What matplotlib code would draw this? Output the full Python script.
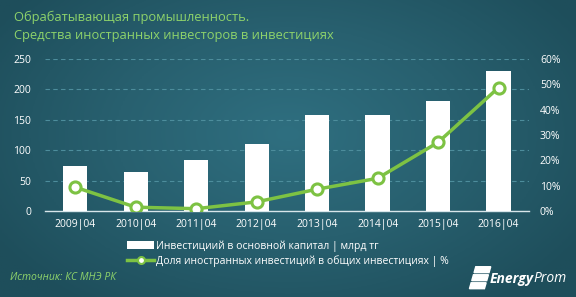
import numpy as np
import matplotlib
matplotlib.use('Agg')
import matplotlib.pyplot as plt
from matplotlib.colors import LinearSegmentedColormap
from matplotlib.patches import Patch
from matplotlib.lines import Line2D

# data
categories = ['2009|04', '2010|04', '2011|04', '2012|04', '2013|04', '2014|04', '2015|04', '2016|04']
investments = [74, 64, 84, 110, 158, 158, 181, 230]
foreign_share = [9.4, 1.5, 0.9, 3.6, 8.6, 12.9, 27.1, 48.7]

title_lines = ['Обрабатывающая промышленность.', 'Средства иностранных инвесторов в инвестициях']
bar_label = 'Инвестициий в основной капитал | млрд тг'
line_label = 'Доля иностранных инвестиций в общих инвестициях | %'

green = '#7dc243'
title_green = '#8ed36b'

plt.rcParams['font.family'] = ['Open Sans', 'DejaVu Sans']

fig = plt.figure(figsize=(5.76, 2.97), dpi=100)

# background gradient
bg = fig.add_axes([0, 0, 1, 1])
yy, xx = np.mgrid[0:1:200j, 0:1:300j]
r = np.sqrt(((xx - 0.5) / 0.75) ** 2 + ((yy - 0.45) / 0.9) ** 2)
cmap = LinearSegmentedColormap.from_list('bg', ['#2f6f80', '#28606f', '#1e4e5b'])
bg.imshow(r, cmap=cmap, extent=[0, 1, 0, 1], aspect='auto', vmin=0, vmax=0.8)
bg.axis('off')

ax = fig.add_axes([0.078, 0.2896, 0.840, 0.5117])
ax.set_facecolor('none')
x = np.arange(len(categories))
ax.bar(x, investments, width=0.4, color='white', zorder=3)
ax.set_xlim(-0.5, 7.5)
ax.set_ylim(0, 250)
ax.set_yticks([0, 50, 100, 150, 200, 250])
ax.set_xticks(x)
ax.set_xticklabels(categories)
ax.tick_params(axis='both', length=0, colors='white', labelsize=7.5)
ax.tick_params(axis='x', pad=6)
ax.tick_params(axis='y', pad=10)
for s in ['top', 'right', 'left']:
    ax.spines[s].set_visible(False)
ax.spines['bottom'].set_color('#d8e6ea')
ax.spines['bottom'].set_linewidth(1)
ax.yaxis.grid(True, linestyle=(0, (4, 3)), color='#4d8d9c', linewidth=0.8, zorder=0)
ax.set_axisbelow(True)

ax2 = ax.twinx()
ax2.plot(x, foreign_share, color=green, linewidth=2.5, marker='o', markersize=8,
         markerfacecolor='white', markeredgecolor=green, markeredgewidth=2.2, zorder=4)
ax2.set_ylim(0, 60)
ax2.set_yticks(range(0, 61, 10))
ax2.set_yticklabels([f'{v}%' for v in range(0, 61, 10)])
ax2.tick_params(axis='y', length=0, colors='white', labelsize=7.5, pad=8)
for s in ax2.spines.values():
    s.set_visible(False)

# titles
fig.text(0.024, 0.94, title_lines[0], color=title_green, fontsize=9.3, va='center')
fig.text(0.024, 0.88, title_lines[1], color=title_green, fontsize=9.3, va='center')

# legend
handles = [Patch(facecolor='white', edgecolor='none'),
           Line2D([], [], color=green, linewidth=2.5, marker='o', markersize=5,
                  markerfacecolor='white', markeredgecolor=green, markeredgewidth=1.5)]
fig.legend(handles, [bar_label, line_label], loc='center', bbox_to_anchor=(0.5, 0.146),
           frameon=False, fontsize=7.5, labelcolor='white', handlelength=2.6,
           handletextpad=0.2, labelspacing=0.35, borderpad=0)

fig.text(0.018, 0.065, 'Источник: КС МНЭ РК', color=title_green, fontsize=7.5,
         style='italic', va='center')
fig.text(0.850, 0.062, 'Energy', color='white', fontsize=10, style='italic',
         weight='bold', ha='left', va='center')
fig.text(0.984, 0.062, 'Prom', color='white', fontsize=10, style='italic',
         ha='right', va='center')
# logo stripes
for i, yv in enumerate([0.092, 0.065, 0.038]):
    dx = 0.004 * (2 - i)
    fig.patches.append(plt.Polygon([[0.815 + dx, yv - 0.01], [0.841 + dx, yv - 0.01],
                                    [0.844 + dx, yv + 0.01], [0.818 + dx, yv + 0.01]],
                                   closed=True, color='white', transform=fig.transFigure))

fig.savefig('out.png', dpi=100)
